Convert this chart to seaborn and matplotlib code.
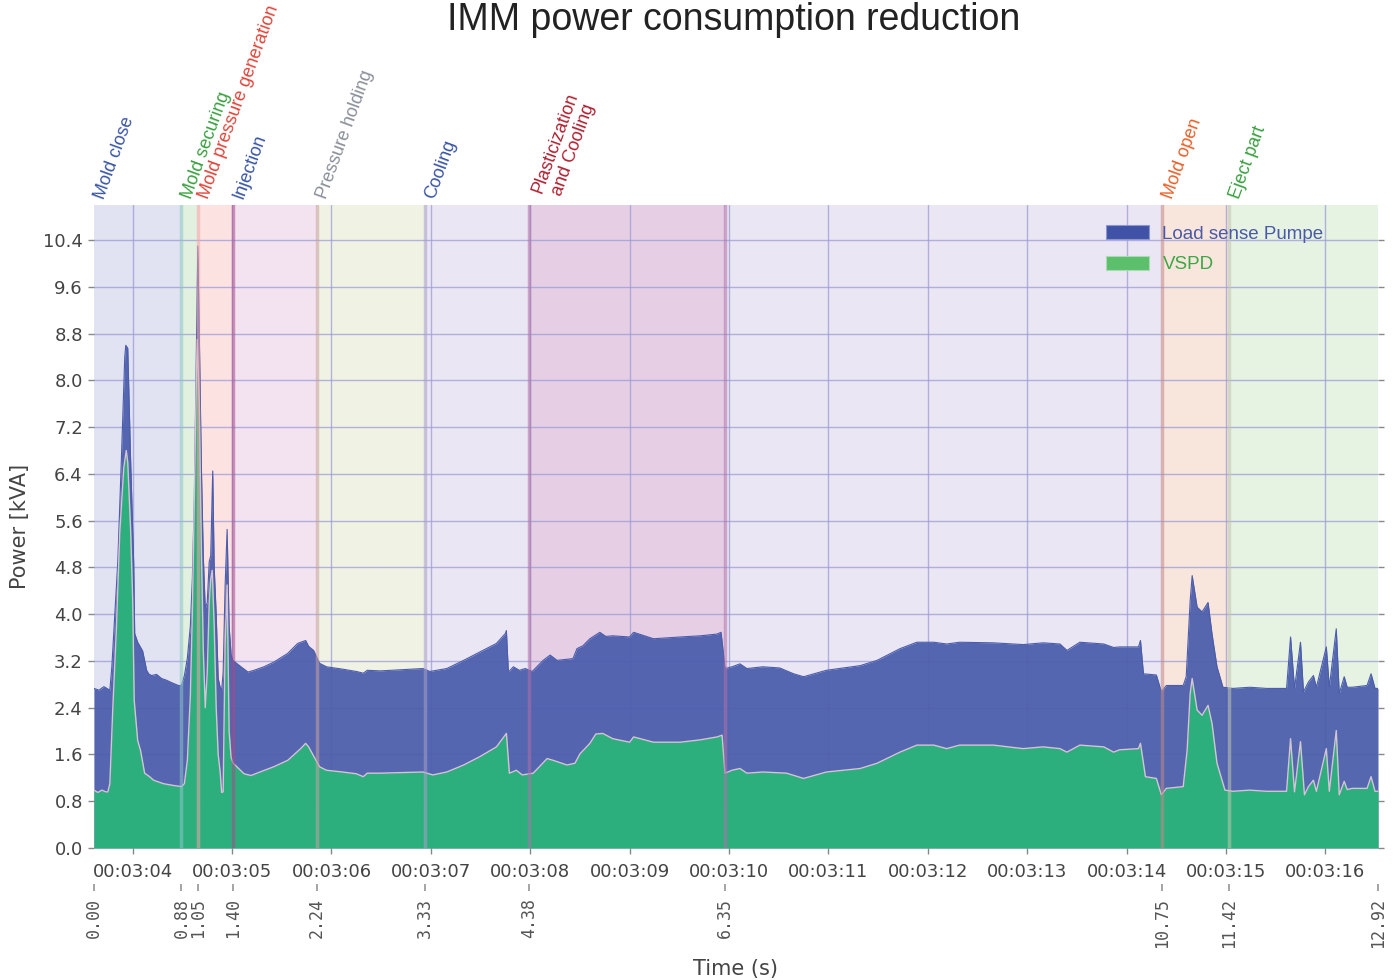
import seaborn as sns
import matplotlib.pyplot as plt
from matplotlib.patches import Patch
import matplotlib.transforms as mtransforms

# ---------------------------------------------------------------------------
# Data (time in s from cycle start, power in kVA)
# ---------------------------------------------------------------------------

load_t = [0.00, 0.05, 0.10, 0.14, 0.16, 0.18, 0.20, 0.24, 0.275, 0.31, 0.32, 0.34,
          0.37, 0.40, 0.41, 0.44, 0.49, 0.53, 0.55, 0.58, 0.63, 0.68, 0.73, 0.78,
          0.85, 0.88, 0.91, 0.94, 0.97, 0.99, 1.01, 1.03, 1.045, 1.06, 1.08, 1.10,
          1.12, 1.14, 1.16, 1.175, 1.195, 1.21, 1.23, 1.25, 1.27, 1.285, 1.30, 1.32,
          1.34, 1.36, 1.38, 1.40, 1.42, 1.48, 1.55, 1.61, 1.71, 1.81, 1.95, 2.05,
          2.13, 2.16, 2.21, 2.27, 2.34, 2.50, 2.64, 2.71, 2.75, 2.88, 3.10, 3.31,
          3.38, 3.55, 3.72, 3.88, 4.05, 4.14, 4.15, 4.17, 4.22, 4.28, 4.34, 4.41,
          4.52, 4.59, 4.66, 4.82, 4.86, 4.92, 4.99, 5.09, 5.15, 5.22, 5.39, 5.43,
          5.63, 5.90, 6.10, 6.27, 6.31, 6.35, 6.42, 6.50, 6.57, 6.73, 6.90, 7.04,
          7.14, 7.37, 7.71, 7.88, 8.11, 8.28, 8.45, 8.58, 8.71, 9.05, 9.35, 9.55,
          9.72, 9.79, 9.92, 10.16, 10.26, 10.32, 10.51, 10.53, 10.56, 10.69, 10.74, 10.79,
          10.96, 10.99, 11.03, 11.05, 11.10, 11.15, 11.21, 11.25, 11.30, 11.36, 11.46, 11.63,
          11.80, 12.00, 12.04, 12.08, 12.14, 12.17, 12.22, 12.27, 12.30, 12.40, 12.43, 12.50,
          12.53, 12.58, 12.61, 12.66, 12.81, 12.85, 12.89, 12.92]
load_kva = [2.73, 2.70, 2.76, 2.72, 2.70, 3.10, 3.70, 4.90, 6.60, 8.40, 8.60, 8.55,
            6.57, 4.87, 3.67, 3.52, 3.37, 3.04, 2.98, 2.95, 2.97, 2.90, 2.87, 2.83,
            2.78, 2.78, 2.95, 3.25, 3.80, 4.60, 6.00, 8.50, 10.30, 8.80, 6.60, 5.00,
            4.10, 4.20, 4.90, 5.00, 6.45, 4.80, 4.00, 2.90, 2.75, 2.70, 3.00, 4.50,
            5.45, 3.80, 3.30, 3.20, 3.18, 3.10, 3.01, 3.04, 3.10, 3.18, 3.33, 3.50,
            3.55, 3.45, 3.38, 3.16, 3.10, 3.06, 3.02, 2.99, 3.04, 3.03, 3.05, 3.07,
            3.02, 3.07, 3.21, 3.35, 3.50, 3.67, 3.72, 3.01, 3.10, 3.04, 3.07, 3.02,
            3.21, 3.30, 3.21, 3.24, 3.41, 3.46, 3.58, 3.69, 3.62, 3.63, 3.61, 3.69,
            3.58, 3.61, 3.63, 3.66, 3.69, 3.07, 3.10, 3.15, 3.07, 3.10, 3.08, 2.98,
            2.93, 3.04, 3.12, 3.21, 3.41, 3.52, 3.52, 3.49, 3.52, 3.51, 3.48, 3.51,
            3.49, 3.38, 3.52, 3.49, 3.43, 3.44, 3.44, 3.55, 2.98, 2.96, 2.67, 2.78,
            2.78, 2.93, 4.23, 4.66, 4.12, 4.04, 4.20, 3.66, 3.10, 2.75, 2.73, 2.75,
            2.73, 2.73, 3.61, 2.73, 3.52, 2.67, 2.84, 2.95, 2.75, 3.44, 2.75, 3.75,
            2.64, 2.93, 2.75, 2.75, 2.78, 2.98, 2.73, 2.73]

vspd_t = [0.00, 0.04, 0.08, 0.12, 0.14, 0.16, 0.19, 0.225, 0.26, 0.30, 0.325, 0.34,
          0.37, 0.39, 0.405, 0.44, 0.47, 0.51, 0.56, 0.60, 0.70, 0.80, 0.88, 0.91,
          0.94, 0.97, 0.99, 1.01, 1.03, 1.04, 1.06, 1.08, 1.10, 1.12, 1.14, 1.16,
          1.175, 1.19, 1.21, 1.23, 1.25, 1.27, 1.285, 1.30, 1.32, 1.34, 1.36, 1.38,
          1.40, 1.42, 1.51, 1.58, 1.67, 1.81, 1.95, 2.08, 2.13, 2.16, 2.27, 2.34,
          2.50, 2.64, 2.71, 2.75, 2.88, 3.10, 3.31, 3.41, 3.55, 3.72, 3.88, 4.05,
          4.15, 4.18, 4.25, 4.31, 4.42, 4.56, 4.62, 4.76, 4.84, 4.89, 4.99, 5.05,
          5.12, 5.22, 5.39, 5.43, 5.63, 5.90, 6.10, 6.27, 6.32, 6.35, 6.42, 6.50,
          6.57, 6.73, 6.97, 7.14, 7.37, 7.71, 7.88, 8.11, 8.28, 8.45, 8.58, 8.71,
          9.05, 9.35, 9.55, 9.72, 9.79, 9.92, 10.16, 10.26, 10.32, 10.51, 10.53, 10.58,
          10.69, 10.74, 10.79, 10.96, 11.00, 11.03, 11.05, 11.10, 11.15, 11.21, 11.25, 11.30,
          11.38, 11.46, 11.63, 11.80, 12.00, 12.04, 12.08, 12.14, 12.18, 12.22, 12.27, 12.30,
          12.40, 12.43, 12.50, 12.53, 12.58, 12.61, 12.66, 12.81, 12.85, 12.89, 12.92]
vspd_kva = [0.99, 0.95, 0.99, 0.96, 0.96, 1.10, 2.40, 3.72, 5.40, 6.50, 6.80, 6.60,
            5.40, 4.23, 2.53, 1.84, 1.66, 1.28, 1.22, 1.16, 1.10, 1.07, 1.05, 1.10,
            1.50, 2.60, 4.00, 6.00, 8.00, 8.70, 7.60, 5.20, 3.40, 2.40, 3.00, 4.20,
            4.60, 4.75, 3.80, 2.40, 1.60, 1.30, 0.95, 0.96, 3.50, 4.50, 2.00, 1.55,
            1.45, 1.42, 1.27, 1.24, 1.30, 1.39, 1.50, 1.70, 1.79, 1.73, 1.39, 1.33,
            1.30, 1.27, 1.22, 1.28, 1.28, 1.29, 1.30, 1.25, 1.30, 1.42, 1.56, 1.73,
            1.96, 1.28, 1.33, 1.25, 1.28, 1.53, 1.50, 1.42, 1.45, 1.61, 1.79, 1.95,
            1.96, 1.87, 1.81, 1.90, 1.81, 1.81, 1.85, 1.90, 1.93, 1.28, 1.33, 1.36,
            1.28, 1.30, 1.28, 1.19, 1.30, 1.36, 1.45, 1.64, 1.76, 1.76, 1.70, 1.76,
            1.76, 1.70, 1.73, 1.70, 1.64, 1.76, 1.73, 1.64, 1.68, 1.70, 1.79, 1.22,
            1.19, 0.91, 1.02, 1.05, 1.68, 2.64, 2.90, 2.36, 2.27, 2.44, 2.13, 1.45,
            0.99, 0.97, 0.99, 0.97, 0.97, 1.87, 0.96, 1.82, 0.91, 1.05, 1.16, 0.97,
            1.70, 0.97, 2.01, 0.91, 1.14, 1.00, 1.02, 1.02, 1.22, 0.97, 0.97]

# machine phases: start times (last value = end of cycle)
phase_bounds = [0.00, 0.88, 1.05, 1.40, 2.24, 3.33, 4.38, 6.35, 10.75, 11.42, 12.92]
phase_names = ["Mold close", "Mold securing", "Mold pressure generation", "Injection",
               "Pressure holding", "Cooling", "Plasticization\nand Cooling", "",
               "Mold open", "Eject part"]
phase_bg = ["#e1e2f2", "#e2f0e0", "#fde2e2", "#f3e3f0", "#f0f3e4",
            "#ebe6f3", "#e6cfe5", "#ebe6f3", "#f8e6dc", "#e6f2e2"]
phase_edge = ["#b8bce0", "#8cc6c8", "#f0a8a8", "#a84a88", "#c8a0a0",
              "#a8a0c8", "#b070a8", "#b070a8", "#c08888", "#c0c8b0"]
phase_text = ["#3a55a5", "#3aa040", "#e0453a", "#3a55a5", "#8a8f99",
              "#3a55a5", "#b02030", "#3a55a5", "#e8602a", "#3aa040"]

# wall clock ticks on the main axis
clock_labels = ["00:03:04", "00:03:05", "00:03:06", "00:03:07", "00:03:08",
                "00:03:09", "00:03:10", "00:03:11", "00:03:12", "00:03:13",
                "00:03:14", "00:03:15", "00:03:16"]
clock_first = 0.39

y_ticks = [0.0, 0.8, 1.6, 2.4, 3.2, 4.0, 4.8, 5.6, 6.4, 7.2, 8.0, 8.8, 9.6, 10.4]

# ---------------------------------------------------------------------------
# Styling
# ---------------------------------------------------------------------------

sns.set_theme(style="ticks")
plt.rcParams["font.family"] = ["DejaVu Sans"]

blue = "#4a5cab"
green = "#2ab57a"

fig = plt.figure(figsize=(13.98, 9.8), dpi=100)
ax = fig.add_axes([0.0672, 0.1347, 0.9185, 0.6561])

# phase backgrounds
for i, name in enumerate(phase_names):
    ax.axvspan(phase_bounds[i], phase_bounds[i + 1], color=phase_bg[i], lw=0, zorder=0.2)
    if i > 0:
        ax.axvline(phase_bounds[i], color=phase_edge[i], lw=2.5, alpha=0.55, zorder=3)

# areas
ax.fill_between(load_t, load_kva, 0, color=blue, alpha=0.93, lw=0, zorder=2)
ax.fill_between(vspd_t, vspd_kva, 0, color=green, alpha=0.93, lw=0, zorder=2.1)
sns.lineplot(x=load_t, y=load_kva, color=blue, lw=0.8, ax=ax, zorder=2.2)
sns.lineplot(x=vspd_t, y=vspd_kva, color="#d4c4d4", lw=1.0, ax=ax, zorder=2.3)

ax.set_xlim(phase_bounds[0], phase_bounds[-1])
ax.set_ylim(0, 11.0)
ax.set_yticks(y_ticks)
ax.set_yticklabels([f"{v:.1f}" for v in y_ticks])
clock_pos = [clock_first + k for k in range(len(clock_labels))]
ax.set_xticks(clock_pos)
ax.set_xticklabels(clock_labels)

ax.set_axisbelow(True)
ax.grid(True, color="#9c9cd6", lw=1.0, alpha=0.75)
for s in ax.spines.values():
    s.set_visible(False)
ax.tick_params(axis="both", labelsize=13, labelcolor="#444444", color="#888888",
               length=4, width=1)
ax.tick_params(axis="x", pad=7)
ax.tick_params(axis="y", right=True, pad=4)
ax.set_ylabel("Power [kVA]", fontsize=15, color="#444444", labelpad=9)

# phase boundary axis below
ax2 = ax.twiny()
ax2.set_xlim(ax.get_xlim())
ax2.xaxis.set_ticks_position("bottom")
ax2.xaxis.set_label_position("bottom")
ax2.spines["bottom"].set_position(("outward", 26))
for s in ax2.spines.values():
    s.set_visible(False)
ax2.set_xticks(phase_bounds)
ax2.set_xticklabels([f"{b:.2f}" for b in phase_bounds], rotation=90,
                    family="DejaVu Sans Mono", fontsize=12, color="#555555")
ax2.tick_params(axis="x", length=5, color="#999999", pad=5)
ax2.set_xlabel("Time (s)", fontsize=15, color="#444444", labelpad=8)

# phase names above the plot
trans = mtransforms.blended_transform_factory(ax.transData, ax.transAxes)
for i, name in enumerate(phase_names):
    if not name:
        continue
    shift = 0.28 if "\n" in name else 0.1
    ax.text(phase_bounds[i] + shift, 1.008, name, transform=trans, rotation=70,
            rotation_mode="anchor", ha="left", va="baseline", multialignment="center",
            fontsize=13, color=phase_text[i], family=["Liberation Sans", "DejaVu Sans"])

# legend
handles = [Patch(facecolor="#3f52a6", edgecolor="#8c98cc", lw=0.8),
           Patch(facecolor="#5bbf6c", edgecolor="#a8dcb0", lw=0.8)]
leg = ax.legend(handles, ["Load sense Pumpe", "VSPD"], loc="upper left",
                bbox_to_anchor=(0.781, 0.983), frameon=False, borderpad=0,
                handlelength=2.3, handleheight=0.75, handletextpad=0.7,
                labelspacing=0.7, prop={"family": "Liberation Sans", "size": 13.5})
for txt, c in zip(leg.get_texts(), ["#4a5aa8", "#3aa845"]):
    txt.set_color(c)

fig.text(0.525, 1 - 30 / 980, "IMM power consumption reduction", ha="center",
         va="baseline", fontsize=27, color="#222222", family="Liberation Sans")

plt.savefig("out.png", dpi=100)
plt.close()
